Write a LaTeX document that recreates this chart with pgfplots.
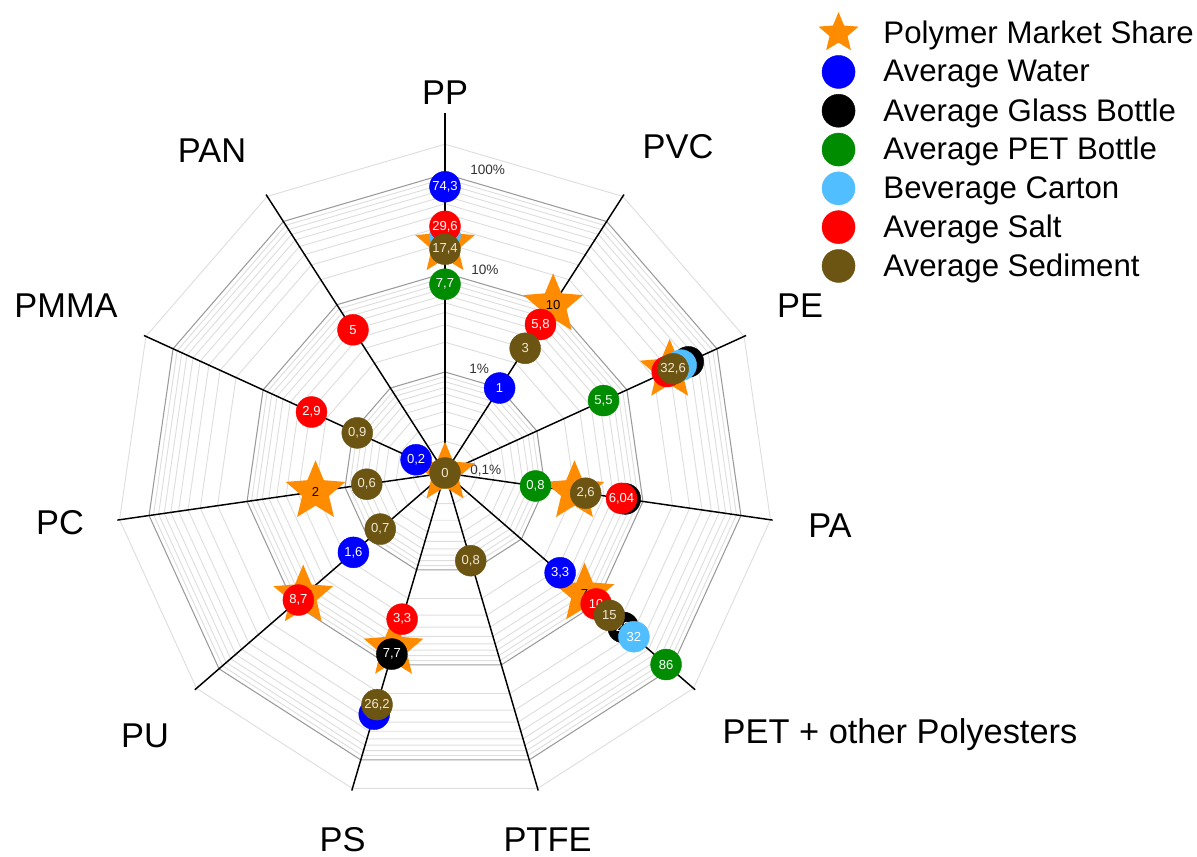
\documentclass[border=0pt]{standalone}
\usepackage{pgfplots}
\usepackage{pgfplotstable}
\pgfplotsset{compat=1.18}
\usepackage{fontspec}
\setmainfont{Liberation Sans}
\definecolor{cstar}{RGB}{255,140,0}
\definecolor{cblue}{RGB}{0,0,255}
\definecolor{cblack}{RGB}{0,0,0}
\definecolor{cgreen}{RGB}{0,140,0}
\definecolor{clblue}{RGB}{80,190,255}
\definecolor{cred}{RGB}{255,0,0}
\definecolor{cbrown}{RGB}{108,84,18}
\definecolor{ctxt}{RGB}{240,232,210}
\definecolor{gmaj}{RGB}{155,155,155}
\definecolor{gmin}{RGB}{222,222,222}

\pgfdeclareplotmark{fstar}{%
  \pgfpathmoveto{\pgfpointpolar{90}{\pgfplotmarksize}}%
  \pgfpathlineto{\pgfpointpolar{126}{0.45\pgfplotmarksize}}%
  \pgfpathlineto{\pgfpointpolar{162}{\pgfplotmarksize}}%
  \pgfpathlineto{\pgfpointpolar{198}{0.45\pgfplotmarksize}}%
  \pgfpathlineto{\pgfpointpolar{234}{\pgfplotmarksize}}%
  \pgfpathlineto{\pgfpointpolar{270}{0.45\pgfplotmarksize}}%
  \pgfpathlineto{\pgfpointpolar{306}{\pgfplotmarksize}}%
  \pgfpathlineto{\pgfpointpolar{342}{0.45\pgfplotmarksize}}%
  \pgfpathlineto{\pgfpointpolar{18}{\pgfplotmarksize}}%
  \pgfpathlineto{\pgfpointpolar{54}{0.45\pgfplotmarksize}}%
  \pgfpathclose
  \pgfusepathqfill
}

\pgfplotsset{
  starleg/.style={legend image code/.code={\path[draw=none,fill=none] (-15.2pt,-14.55pt) rectangle (15.2pt,14.55pt); \draw[##1, overlay, mark size=15.8pt] plot coordinates {(0pt,0pt)};}},
  circ/.style={only marks, mark=*, mark size=11.6pt, mark options={draw=#1, fill=#1, line width=0.3pt},
    legend image code/.code={\path[draw=none,fill=none] (-15.2pt,-14.55pt) rectangle (15.2pt,14.55pt); \draw[##1, overlay, mark size=12.4pt] plot coordinates {(0pt,0pt)};}},
}

% angles: PP 90, PVC 57.27, PE 24.55, PA -8.18, PET -40.91, PTFE -73.64,
% PS -106.36, PU -139.09, PC -171.82, PMMA 155.45, PAN 122.73
\pgfplotstableread{
a v l
90 19.3 19,3
57.27 10 10
24.55 29.8 29,8
-8.18 2 2
-40.91 7 7
-106.36 6.7 6,7
-139.09 7.5 7,5
-171.82 2 2
-73.64 0 0
}\share
\pgfplotstableread{
a v l
90 74.3 74,3
57.27 1 1
-40.91 3.3 3,3
-106.36 33 33
-139.09 1.6 1,6
155.45 0.2 0,2
}\water
\pgfplotstableread{
a v l
24.55 48 48
-8.18 6.6 6,6
-40.91 23 23
-106.36 7.7 7,7
}\glass
\pgfplotstableread{
a v l
90 7.7 7,7
24.55 5.5 5,5
-8.18 0.8 0,8
-40.91 86 86
}\pet
\pgfplotstableread{
a v l
90 24 24
24.55 40 40
-40.91 32 32
}\carton
\pgfplotstableread{
a v l
90 29.6 29,6
57.27 5.8 5,8
24.55 28 28
-8.18 6.04 6,04
-40.91 10 10
-106.36 3.3 3,3
-139.09 8.7 8,7
155.45 2.9 2,9
122.73 5 5
}\salt
\pgfplotstableread{
a v l
90 17.4 17,4
57.27 3 3
24.55 32.6 32,6
-8.18 2.6 2,6
-40.91 15 15
-73.64 0.8 0,8
-106.36 26.2 26,2
-139.09 0.7 0,7
-171.82 0.6 0,6
155.45 0.9 0,9
122.73 0 0
}\sediment

\def\RR{max(0,101+99*log10(max(\thisrow{v},0.01)))}

\begin{document}
\begin{tikzpicture}[x=0.75pt,y=0.75pt]
\useasboundingbox (0,0) rectangle (1197,857);
\begin{scope}[shift={(445,384)}]
  \foreach \v in {0.2,0.3,0.4,0.5,0.6,0.7,0.8,0.9,2,3,4,5,6,7,8,9,20,30,40,50,60,70,80,90,200}{
    \pgfmathsetmacro\r{101+99*log10(\v)}
    \draw[gmin,line width=0.7pt] (90:\r) \foreach \k in {1,...,10}{ -- ({90-\k*360/11}:\r)} -- cycle;
  }
  \foreach \v in {1,10,100}{
    \pgfmathsetmacro\r{101+99*log10(\v)}
    \draw[gmaj,line width=0.8pt] (90:\r) \foreach \k in {1,...,10}{ -- ({90-\k*360/11}:\r)} -- cycle;
  }
  \foreach \ang/\len in {90/360,57.27/331,24.55/331,-8.18/331,-40.91/331,-73.64/331,-106.36/331,-139.09/331,-171.82/331,155.45/331,122.73/331}{
    \draw[black,line width=1.1pt] (0,0) -- (\ang:\len);
  }
\end{scope}
\begin{scope}[every node/.style={font=\fontsize{10.2}{12}\selectfont,text=black!80,anchor=base west,inner sep=0pt}]
  \node at (470,382) {0,1\%};
  \node at (469,483) {1\%};
  \node at (471,582) {10\%};
  \node at (470,682) {100\%};
\end{scope}
\begin{scope}[every node/.style={font=\fontsize{25.8}{30}\selectfont,anchor=base,inner sep=0pt}]
  \node at (445,752.5) {PP};
  \node at (678,698.5) {PVC};
  \node at (800,539.5) {PE};
  \node at (830,319.5) {PA};
  \node at (900,113.5) {PET + other Polyesters};
  \node at (547.5,5.5) {PTFE};
  \node at (342.5,5.5) {PS};
  \node at (145,109.5) {PU};
  \node at (60,322.5) {PC};
  \node at (66,539.5) {PMMA};
  \node at (212,694.5) {PAN};
\end{scope}

\begin{axis}[at={(0,0)}, anchor=south west,
  width=897.75pt, height=642.75pt, scale only axis,
  xmin=0, xmax=1197, ymin=0, ymax=857,
  hide axis, clip=false,
  point meta=explicit symbolic,
  nodes near coords,
  every node near coord/.append style={anchor=center, inner sep=0pt, text=white, font=\fontsize{9.8}{10}\selectfont},
  legend cell align=left,
  legend style={draw=none, fill=none, at={(axis cs:818,843.5)}, anchor=north west,
    font=\fontsize{23.4}{28}\selectfont, row sep=0pt, inner sep=0pt,
    nodes={inner sep=0pt},
    /tikz/every odd column/.append style={column sep=18.5pt}},
]
\addplot[only marks, mark=fstar, mark size=23.5pt, mark options={draw=none, fill=cstar},
  every node near coord/.append style={text=black}, starleg]
  table[x expr={445+\RR*cos(\thisrow{a})}, y expr={384+\RR*sin(\thisrow{a})}, meta=l] {\share};
\addlegendentry{Polymer Market Share}
\addplot[circ=cblue] table[x expr={445+\RR*cos(\thisrow{a})}, y expr={384+\RR*sin(\thisrow{a})}, meta=l] {\water};
\addlegendentry{Average Water}
\addplot[circ=cblack] table[x expr={445+\RR*cos(\thisrow{a})}, y expr={384+\RR*sin(\thisrow{a})}, meta=l] {\glass};
\addlegendentry{Average Glass Bottle}
\addplot[circ=cgreen] table[x expr={445+\RR*cos(\thisrow{a})}, y expr={384+\RR*sin(\thisrow{a})}, meta=l] {\pet};
\addlegendentry{Average PET Bottle}
\addplot[circ=clblue] table[x expr={445+\RR*cos(\thisrow{a})}, y expr={384+\RR*sin(\thisrow{a})}, meta=l] {\carton};
\addlegendentry{Beverage Carton}
\addplot[circ=cred] table[x expr={445+\RR*cos(\thisrow{a})}, y expr={384+\RR*sin(\thisrow{a})}, meta=l] {\salt};
\addlegendentry{Average Salt}
\addplot[circ=cbrown, every node near coord/.append style={text=ctxt}] table[x expr={445+\RR*cos(\thisrow{a})}, y expr={384+\RR*sin(\thisrow{a})}, meta=l] {\sediment};
\addlegendentry{Average Sediment}
\end{axis}
\end{tikzpicture}
\end{document}
